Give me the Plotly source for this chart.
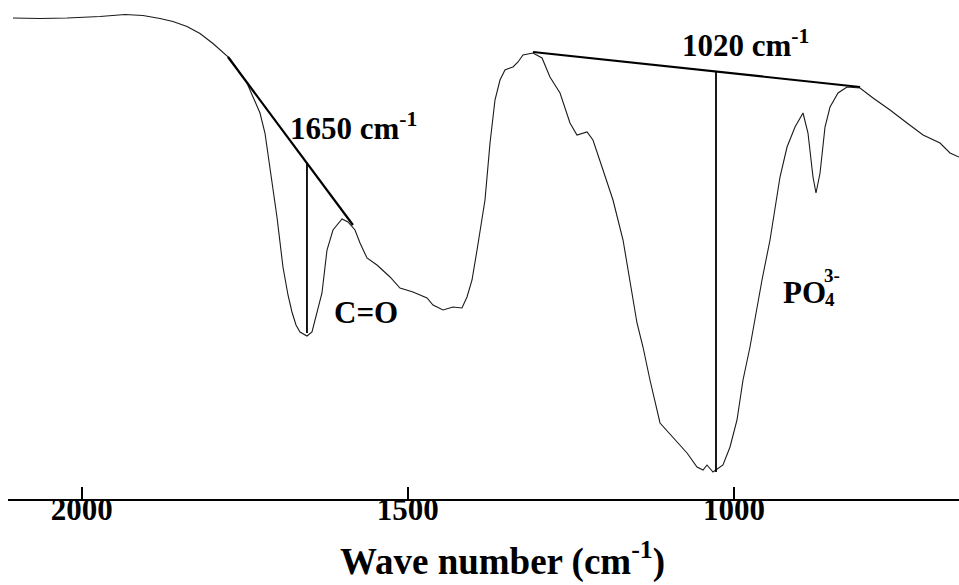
import plotly.graph_objects as go

# Spectrum (wavenumber cm^-1, transmittance a.u.)
wavenumber = [2105.3, 2063.9, 2022.5, 1994.9, 1971.9, 1933.6, 1906.0, 1880.0, 1860.0, 1838.5,
              1818.6, 1798.7, 1772.6, 1746.6, 1726.6, 1719.0, 1711.3, 1700.6, 1691.4, 1683.7,
              1677.6, 1671.4, 1665.3, 1654.6, 1646.9, 1639.2, 1631.6, 1623.9, 1614.7, 1600.9,
              1591.7, 1581.0, 1573.3, 1562.6, 1547.3, 1527.3, 1512.0, 1492.1, 1470.6, 1461.4,
              1446.1, 1430.7, 1417.0, 1409.3, 1401.6, 1393.9, 1389.4, 1381.7, 1374.0, 1366.4,
              1358.7, 1351.1, 1343.4, 1338.8, 1331.1, 1323.5, 1308.1, 1294.3, 1282.1, 1266.7,
              1251.4, 1240.7, 1225.3, 1216.2, 1200.8, 1185.5, 1170.1, 1159.4, 1148.7, 1139.5,
              1128.8, 1113.4, 1093.5, 1072.0, 1056.7, 1047.5, 1041.4, 1032.2, 1016.9, 1006.1,
              995.4, 986.2, 975.5, 964.7, 957.1, 944.8, 929.5, 918.7, 906.5, 894.2,
              886.6, 878.9, 874.3, 868.1, 860.5, 852.8, 840.5, 826.8, 806.8, 786.9,
              760.8, 734.8, 710.2, 684.2, 668.9, 655.1]
transmittance = [96.2, 96.1, 96.2, 96.3, 96.5, 96.9, 96.7, 96.1, 95.5, 94.5,
                 93.1, 91.1, 88.1, 83.2, 77.2, 73.2, 66.4, 56.4, 46.4, 40.8,
                 37.4, 34.8, 33.4, 32.6, 33.4, 37.2, 41.2, 49.8, 53.8, 56.0,
                 55.4, 53.8, 51.2, 48.2, 46.8, 44.4, 42.2, 41.4, 40.2, 38.8,
                 37.8, 38.4, 38.2, 40.4, 43.8, 49.8, 53.8, 59.8, 71.2, 79.8,
                 83.8, 85.8, 86.2, 86.4, 87.4, 88.8, 89.2, 88.2, 84.4, 81.2,
                 75.2, 72.8, 73.4, 71.8, 65.8, 59.8, 51.8, 43.8, 35.2, 30.4,
                 23.8, 15.2, 12.4, 9.2, 6.4, 5.8, 6.8, 5.4, 6.8, 10.4,
                 15.8, 23.8, 30.4, 38.4, 43.8, 51.8, 64.4, 70.4, 74.4, 77.2,
                 73.2, 64.4, 61.2, 65.2, 74.4, 78.4, 81.2, 82.4, 82.2, 80.2,
                 77.8, 75.2, 72.8, 71.2, 69.2, 68.4]

# Baselines and peak-height markers
co_base_x = [1775.7, 1584.1]
co_base_y = [88.4, 54.8]
co_peak_x = [1654.6, 1654.6]
co_peak_y = [67.2, 33.2]
po_base_x = [1308.1, 806.8]
po_base_y = [89.4, 82.4]
po_peak_x = [1027.6, 1027.6]
po_peak_y = [85.5, 5.4]

tick_vals = [2000, 1500, 1000]
tick_text = ["<b>2000</b>", "<b>1500</b>", "<b>1000</b>"]

FONT = "Liberation Serif, Times New Roman, Times, serif"

fig = go.Figure()
fig.add_trace(go.Scatter(x=wavenumber, y=transmittance, mode="lines",
                         line=dict(color="#1a1a1a", width=1.1), hoverinfo="skip"))
for xs, ys, w in [(co_base_x, co_base_y, 2.2), (co_peak_x, co_peak_y, 1.8),
                  (po_base_x, po_base_y, 2.2), (po_peak_x, po_peak_y, 1.8)]:
    fig.add_trace(go.Scatter(x=xs, y=ys, mode="lines",
                             line=dict(color="black", width=w), hoverinfo="skip"))

def label(text, x, y, size, anchor="left"):
    fig.add_annotation(x=x, y=y, xref="x", yref="y", text="<b>" + text + "</b>",
                       showarrow=False, xanchor=anchor, yanchor="middle",
                       font=dict(family=FONT, size=size, color="black"))

label("1650 cm<sup>-1</sup>", 1683.7, 74.6, 31)
label("1020 cm<sup>-1</sup>", 1082.8, 91.2, 31)
label("C=O", 1616.2, 37.4, 31)
label("PO", 928.0, 41.3, 31)
label("3-", 865.1, 44.8, 19)
label("4", 863.5, 40.0, 19)

fig.add_annotation(x=0.5205, y=-0.12, xref="paper", yref="paper",
                   text="<b>Wave number (cm<sup>-1</sup>)</b>", showarrow=False,
                   xanchor="center", yanchor="middle",
                   font=dict(family=FONT, size=37, color="black"))

fig.update_layout(
    width=959, height=585,
    margin=dict(l=8, r=0, t=0, b=86),
    paper_bgcolor="white", plot_bgcolor="white",
    showlegend=False,
    font=dict(family=FONT, color="black"),
    xaxis=dict(range=[2112.9, 655.1], tickvals=tick_vals, ticktext=tick_text,
               showline=True, linecolor="black", linewidth=1.5,
               ticks="inside", ticklen=12, tickwidth=1.5, tickcolor="black",
               ticklabelstandoff=-18,
               showgrid=False, zeroline=False,
               tickfont=dict(family=FONT, size=31, color="black")),
    yaxis=dict(range=[0, 99.8], visible=False, showgrid=False, zeroline=False),
)

fig.write_html("out.html")
